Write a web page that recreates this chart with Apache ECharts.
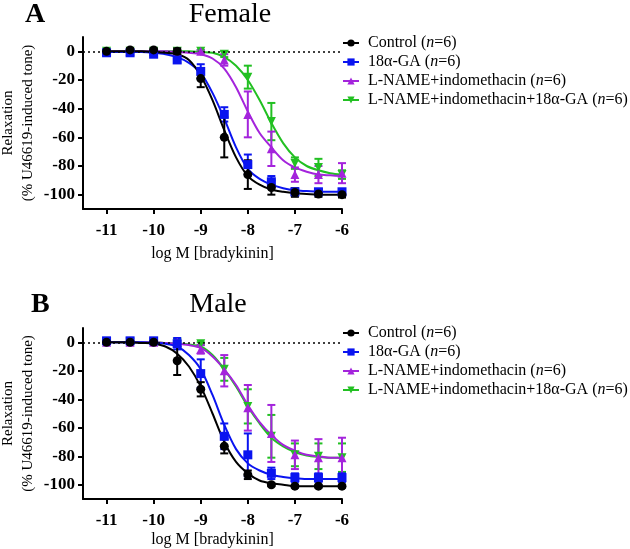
<!DOCTYPE html>
<html>
<head>
<meta charset="utf-8">
<script src="https://cdn.jsdelivr.net/npm/echarts@6/dist/echarts.min.js"></script>
<style>html,body{margin:0;padding:0;background:#fff}#c{width:630px;height:549px}</style>
</head>
<body>
<div id="c"></div>
<script>
// ---- data ----
const doses = [-11, -10.5, -10, -9.5, -9, -8.5, -8, -7.5, -7, -6.5, -6];
const fitDoses = [-11, -10.75, -10.5, -10.25, -10, -9.75, -9.5, -9.25, -9, -8.75, -8.5, -8.25, -8, -7.75, -7.5, -7.25, -7, -6.75, -6.5, -6.25, -6];
const seriesNames = ['Control', '18α-GA', 'L-NAME+indomethacin', 'L-NAME+indomethacin+18α-GA'];
const nCounts = [6, 6, 6, 6];
const panelTitles = ['Female', 'Male'];
const panelLetters = ['A', 'B'];
const xTicks = [-11, -10, -9, -8, -7, -6];
const yTicks = [-100, -80, -60, -40, -20, 0];

// Female (panel A): means and SEM at each dose
const ctrlF = [0, 1, 1, 0, -19, -60, -86, -95, -98.5, -99.5, -100];
const ctrlFsem = [1, 1, 1, 2, 6, 14, 10, 5, 3, 2, 2];
const gaF = [-1, -1, -2, -6, -14, -44, -79, -91, -98, -98, -98];
const gaFsem = [1, 1, 1, 2, 5, 5, 7, 4, 2, 2, 2];
const lnF = [0, 0, 0, 0, 0, -6, -44, -68, -86, -86, -85];
const lnFsem = [1, 1, 1, 1, 1, 4, 16, 12, 5, 6, 7];
const lngaF = [0, 0, 0, 0, 0, -2, -18, -49, -78, -81, -86];
const lngaFsem = [1, 1, 1, 1, 1, 2, 8, 13, 4, 6, 3];
// Female fitted curves at fitDoses
const ctrlFfit = [0, 0, 0, 0, -0.5, -1, -2, -6, -17, -34, -55, -74, -87, -93, -96.5, -98, -99, -99.5, -100, -100, -100];
const gaFfit = [-0.5, -0.5, -0.5, -0.5, -1, -2, -4, -8, -15, -29, -47, -67, -82, -89, -93, -95.5, -97, -97.5, -98, -98, -98];
const lnFfit = [0, 0, 0, 0, 0, 0, -0.5, -1, -2, -5, -12, -25, -42, -57, -67, -76, -81, -84, -86, -86.5, -87];
const lngaFfit = [0, 0, 0, 0, 0, 0, 0, 0, -0.5, -1, -4, -10, -20, -34, -50, -64, -74, -80, -83, -85, -86];

// Male (panel B)
const ctrlM = [0, 0, 0, -13, -33, -73, -93, -100, -101, -101, -101];
const ctrlMsem = [1, 1, 1, 10, 5, 5, 3, 1, 1, 1, 1];
const gaM = [1, 1, 1, -1, -22, -66, -79, -92, -95, -95, -95];
const gaMsem = [1, 1, 1, 4, 10, 9, 15, 4, 3, 3, 3];
const lnM = [0, 0, 0, 0, -5, -20, -46, -64, -79, -81, -81];
const lnMsem = [1, 1, 1, 1, 3, 11, 16, 20, 10, 13, 14];
const lngaM = [0, 0, 0, 0, -1, -19, -45, -66, -79, -80, -81];
const lngaMsem = [1, 1, 1, 1, 1, 8, 12, 15, 8, 9, 10];
const ctrlMfit = [0, 0, 0, -0.5, -1, -3, -8, -17, -31, -50, -70, -84, -92, -97, -99, -100, -101, -101, -101, -101, -101];
const gaMfit = [0, 0, 0, 0, -0.5, -1, -3, -9, -19, -37, -58, -75, -85, -90, -93, -94.5, -95.5, -96, -96, -96, -96];
const lnMfit = [0, 0, 0, 0, 0, -0.5, -1, -2, -4, -10, -19, -30, -44, -56, -65, -72, -76, -79, -80, -81, -81];
const lngaMfit = [0, 0, 0, 0, 0, -0.5, -1, -1.5, -3, -9, -19, -31, -45, -57, -67, -73, -77, -79.5, -80.5, -81, -81];

// ---- styling ----
const colors = ['#000000', '#0a14f0', '#a424dc', '#22c022'];
const symbols = ['circle', 'rect', 'triangle', 'triangle'];
const rotations = [0, 0, 0, 180];
const serif = 'Liberation Serif';

const panels = [
  {means: [ctrlF, gaF, lnF, lngaF], sems: [ctrlFsem, gaFsem, lnFsem, lngaFsem], fits: [ctrlFfit, gaFfit, lnFfit, lngaFfit]},
  {means: [ctrlM, gaM, lnM, lngaM], sems: [ctrlMsem, gaMsem, lnMsem, lngaMsem], fits: [ctrlMfit, gaMfit, lnMfit, lngaMfit]}
];

const series = [];
const order = [3, 2, 1, 0];
panels.forEach((p, pi) => {
  order.forEach((si, k) => {
    // fitted curve
    series.push({
      type: 'line', name: seriesNames[si], xAxisIndex: pi, yAxisIndex: pi,
      data: fitDoses.map((d, i) => [d, p.fits[si][i]]),
      smooth: 0.3, showSymbol: false,
      symbol: symbols[si], symbolRotate: rotations[si], symbolSize: 9,
      lineStyle: {color: colors[si], width: 2}, itemStyle: {color: colors[si]},
      z: 2 + k, silent: true,
      markLine: (si === 0) ? {silent: true, symbol: 'none', label: {show: false},
        lineStyle: {type: [2, 3], color: '#000', width: 1.5}, data: [{yAxis: 0}]} : undefined
    });
    // error bars
    series.push({
      type: 'custom', name: seriesNames[si] + ' sem', xAxisIndex: pi, yAxisIndex: pi,
      data: doses.map((d, i) => [d, p.means[si][i] - p.sems[si][i], p.means[si][i] + p.sems[si][i]]),
      encode: {x: 0, y: [1, 2]}, z: 3 + k, silent: true,
      renderItem: function (params, api) {
        const x = api.value(0);
        const a = api.coord([x, api.value(1)]);
        const b = api.coord([x, api.value(2)]);
        const w = 4;
        const st = {stroke: colors[si], lineWidth: 2};
        return {type: 'group', children: [
          {type: 'line', shape: {x1: a[0], y1: a[1], x2: b[0], y2: b[1]}, style: st},
          {type: 'line', shape: {x1: a[0] - w, y1: a[1], x2: a[0] + w, y2: a[1]}, style: st},
          {type: 'line', shape: {x1: b[0] - w, y1: b[1], x2: b[0] + w, y2: b[1]}, style: st}
        ]};
      }
    });
    // mean markers
    series.push({
      type: 'scatter', name: seriesNames[si] + ' mean', xAxisIndex: pi, yAxisIndex: pi,
      data: doses.map((d, i) => [d, p.means[si][i]]),
      symbol: symbols[si], symbolRotate: rotations[si], symbolSize: 9,
      itemStyle: {color: colors[si], opacity: 1}, z: 4 + k, silent: true
    });
  });
});

const legendFormatter = function (name) {
  const idx = seriesNames.indexOf(name);
  return name + ' ({i|n}=' + nCounts[idx] + ')';
};
const legendText = {fontFamily: serif, fontSize: 16, color: '#000', lineHeight: 16, padding: [0, 0, 0, 4],
  rich: {i: {fontFamily: serif, fontSize: 16, fontStyle: 'italic', color: '#000'}}};

const mkX = (i, gap) => ({
  type: 'value', gridIndex: i, min: -11.5, max: -6,
  name: 'log M [bradykinin]', nameLocation: 'middle', nameGap: gap,
  nameTextStyle: {fontFamily: serif, fontSize: 16, color: '#000'},
  axisLine: {show: true, onZero: false, lineStyle: {color: '#000', width: 2}},
  axisTick: {show: true, customValues: xTicks, length: 5, lineStyle: {color: '#000', width: 2}},
  axisLabel: {customValues: xTicks, margin: 13, fontFamily: serif, fontSize: 17, fontWeight: 'bold', color: '#000'},
  splitLine: {show: false}
});
const mkY = (i) => ({
  type: 'value', gridIndex: i, min: -110, max: 10,
  name: 'Relaxation\n(% U46619-induced tone)', nameLocation: 'middle', nameGap: 45, nameRotate: 90,
  nameTextStyle: {fontFamily: serif, fontSize: 15, color: '#000', lineHeight: 20},
  axisLine: {show: true, onZero: false, lineStyle: {color: '#000', width: 2}},
  axisTick: {show: true, customValues: yTicks, length: 5, lineStyle: {color: '#000', width: 2}},
  axisLabel: {customValues: yTicks, margin: 8, fontFamily: serif, fontSize: 17, fontWeight: 'bold', color: '#000'},
  splitLine: {show: false}
});

const option = {
  backgroundColor: '#fff',
  animation: false,
  title: [
    {text: panelLetters[0], left: 25, top: 1, padding: 0, textStyle: {fontFamily: serif, fontSize: 28, fontWeight: 'bold', color: '#000'}},
    {text: panelTitles[0], left: 230, textAlign: 'center', top: 1, padding: 0, textStyle: {fontFamily: serif, fontSize: 28, fontWeight: 'normal', color: '#000'}},
    {text: panelLetters[1], left: 31, top: 291, padding: 0, textStyle: {fontFamily: serif, fontSize: 28, fontWeight: 'bold', color: '#000'}},
    {text: panelTitles[1], left: 218, textAlign: 'center', top: 291, padding: 0, textStyle: {fontFamily: serif, fontSize: 28, fontWeight: 'normal', color: '#000'}}
  ],
  legend: [
    {data: seriesNames, orient: 'vertical', left: 342, top: 35, padding: 0, itemWidth: 16, itemHeight: 9, itemGap: 3,
     formatter: legendFormatter, textStyle: legendText, selectedMode: false},
    {data: seriesNames, orient: 'vertical', left: 342, top: 325, padding: 0, itemWidth: 16, itemHeight: 9, itemGap: 3,
     formatter: legendFormatter, textStyle: legendText, selectedMode: false}
  ],
  grid: [
    {left: 83, top: 37, width: 259, height: 172, containLabel: false, outerBoundsMode: 'none'},
    {left: 83, top: 328, width: 259, height: 171, containLabel: false, outerBoundsMode: 'none'}
  ],
  xAxis: [mkX(0, 37), mkX(1, 33)],
  yAxis: [mkY(0), mkY(1)],
  series: series
};

const chart = echarts.init(document.getElementById('c'), null, {renderer: 'canvas'});
chart.setOption(option);
</script>
</body>
</html>
